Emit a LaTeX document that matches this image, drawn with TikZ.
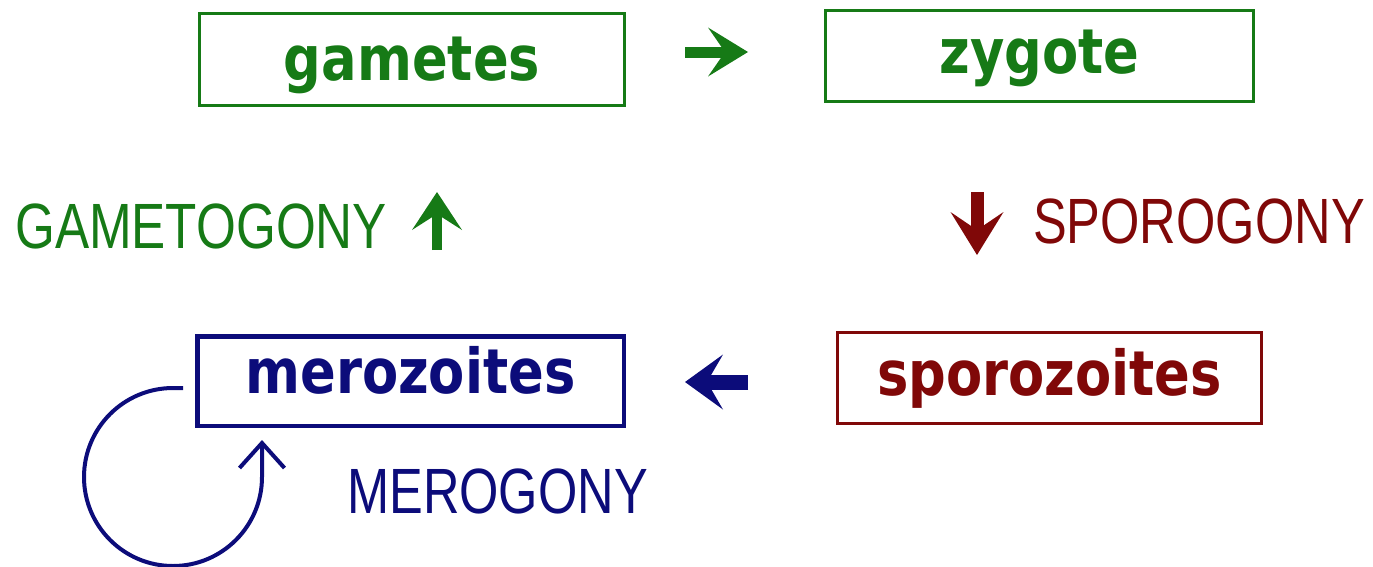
\documentclass[tikz,border=0pt]{standalone}
\usepackage{graphicx}
\usepackage{fontspec}
\usetikzlibrary{arrows.meta}
\newfontfamily\boxfont{DejaVu Sans}
\newfontfamily\labfont{Liberation Sans}
\definecolor{gr}{RGB}{22,122,22}
\definecolor{nv}{RGB}{12,12,122}
\definecolor{mr}{RGB}{128,8,8}
\tikzset{
  stagebox/.style={draw, line width=3pt, inner sep=0pt, text height=42pt, text depth=14pt,
    font=\boxfont\bfseries\fontsize{62}{62}\selectfont},
  lab/.style={inner sep=0pt, font=\labfont\fontsize{64}{64}\selectfont},
  blk/.style n args={4}{line width=#1, -{Stealth[length=#2, width=#3, inset=#4, line width=0pt]}},
  loopline/.style={line width=4pt, -{Straight Barb[length=25pt, width=45pt, line width=4pt]}}
}
\begin{document}
\begin{tikzpicture}[x=1pt,y=-1pt]
\useasboundingbox (0,0) rectangle (1373,566);
% boxes
\node[stagebox, gr, minimum width=425pt, minimum height=92pt] (gam) at (412,59.5)
  {\raisebox{-6.5pt}{\scalebox{0.85}[1]{gametes}}\hspace{24pt}};
\node[stagebox, gr, minimum width=428pt, minimum height=91pt] (zyg) at (1039.5,56)
  {\raisebox{-3pt}{\scalebox{0.85}[1]{zygote}}\hspace{15pt}};
\node[stagebox, nv, line width=4.5pt, minimum width=426.5pt, minimum height=89.5pt] (mer) at (410.5,381)
  {\raisebox{2pt}{\scalebox{0.85}[1]{merozoites}}\hspace{20pt}};
\node[stagebox, mr, minimum width=424pt, minimum height=91pt] (spo) at (1049.5,378)
  {\raisebox{-3pt}{\scalebox{0.85}[1]{sporozoites}}\hspace{8pt}};
% labels
\node[lab, gr, anchor=base west] (gtg) at (15,248) {\scalebox{0.8}[1]{GAMETOGONY}};
\node[lab, mr, anchor=base west] (spg) at (1033,243) {\scalebox{0.79}[1]{SPOROGONY}};
\node[lab, nv, anchor=base west] (mrg) at (347,513) {\scalebox{0.79}[1]{MEROGONY}};
% block arrows
\coordinate (a1s) at (685,52);  \coordinate (a1e) at (748,52);
\coordinate (a2s) at (437,250); \coordinate (a2e) at (437,192);
\coordinate (a3s) at (977,192); \coordinate (a3e) at (977,255);
\coordinate (a4s) at (748,382); \coordinate (a4e) at (685,382);
\draw[blk={11pt}{40pt}{49pt}{17pt}, gr] (a1s) -- (a1e);
\draw[blk={10pt}{38pt}{50pt}{16pt}, gr] (a2s) -- (a2e);
\draw[blk={13pt}{43pt}{53pt}{18pt}, mr] (a3s) -- (a3e);
\draw[blk={15pt}{38pt}{55pt}{16pt}, nv] (a4s) -- (a4e);
% merogony loop
\coordinate (loopstart) at ([xshift=-12pt,yshift=-7pt]mer.west);
\coordinate (loopend) at ([xshift=67pt,yshift=-12pt]mer.south west);
\draw[loopline, nv] (loopstart) -- ++(-10,0) arc[start angle=-90, end angle=-360, radius=89] -- (loopend);
\end{tikzpicture}
\end{document}
